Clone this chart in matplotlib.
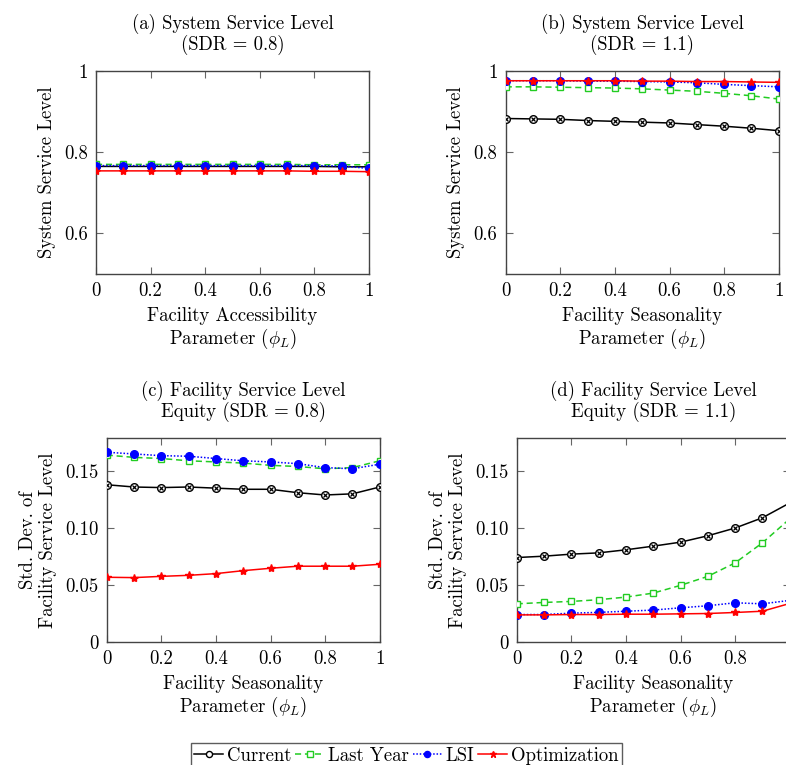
import numpy as np
import matplotlib
matplotlib.use("Agg")
import matplotlib.pyplot as plt

plt.rcParams['font.family'] = 'serif'
plt.rcParams['font.serif'] = ['cmr10']
plt.rcParams['mathtext.fontset'] = 'cm'
plt.rcParams['axes.formatter.use_mathtext'] = True

# x values (phi_L)
phi = [0.0, 0.1, 0.2, 0.3, 0.4, 0.5, 0.6, 0.7, 0.8, 0.9, 1.0]

# (a) System service level, SDR = 0.8
a_current = [0.765, 0.765, 0.765, 0.765, 0.765, 0.765, 0.765, 0.765, 0.765, 0.764, 0.764]
a_lastyear = [0.770, 0.770, 0.770, 0.770, 0.770, 0.770, 0.770, 0.770, 0.769, 0.769, 0.769]
a_lsi = [0.767, 0.767, 0.767, 0.767, 0.767, 0.767, 0.767, 0.767, 0.767, 0.766, 0.760]
a_opt = [0.754, 0.754, 0.754, 0.754, 0.754, 0.754, 0.754, 0.754, 0.753, 0.753, 0.752]

# (b) System service level, SDR = 1.1
b_current = [0.883, 0.882, 0.881, 0.878, 0.876, 0.874, 0.872, 0.868, 0.864, 0.859, 0.853]
b_lastyear = [0.961, 0.961, 0.960, 0.959, 0.958, 0.956, 0.953, 0.950, 0.945, 0.939, 0.931]
b_lsi = [0.976, 0.976, 0.976, 0.975, 0.975, 0.974, 0.973, 0.971, 0.967, 0.964, 0.961]
b_opt = [0.976, 0.976, 0.976, 0.976, 0.976, 0.975, 0.975, 0.974, 0.974, 0.973, 0.972]

# (c) Std. dev. of facility service level, SDR = 0.8
c_current = [0.138, 0.136, 0.1355, 0.136, 0.135, 0.134, 0.134, 0.131, 0.129, 0.130, 0.136]
c_lastyear = [0.164, 0.162, 0.161, 0.159, 0.158, 0.157, 0.155, 0.154, 0.152, 0.153, 0.159]
c_lsi = [0.1665, 0.165, 0.1635, 0.163, 0.161, 0.159, 0.158, 0.1565, 0.153, 0.152, 0.156]
c_opt = [0.0568, 0.0565, 0.0576, 0.0585, 0.060, 0.0626, 0.0647, 0.0665, 0.0665, 0.0665, 0.0682]

# (d) Std. dev. of facility service level, SDR = 1.1
d_current = [0.0741, 0.0753, 0.0771, 0.0782, 0.0809, 0.0841, 0.0876, 0.0932, 0.100, 0.109, 0.122]
d_lastyear = [0.0335, 0.0347, 0.0356, 0.0371, 0.0394, 0.0429, 0.0497, 0.0576, 0.0694, 0.087, 0.108]
d_lsi = [0.0241, 0.0241, 0.0253, 0.026, 0.027, 0.028, 0.030, 0.0318, 0.0344, 0.0335, 0.0365]
d_opt = [0.0238, 0.0238, 0.0241, 0.0241, 0.0244, 0.0244, 0.0247, 0.025, 0.0259, 0.027, 0.0338]

titles = ["(a) System Service Level\n(SDR = 0.8)",
          "(b) System Service Level\n(SDR = 1.1)",
          "(c) Facility Service Level\nEquity (SDR = 0.8)",
          "(d) Facility Service Level\nEquity (SDR = 1.1)"]
xlabels = ["Facility Accessibility\nParameter ($\\phi_L$)",
           "Facility Seasonality\nParameter ($\\phi_L$)",
           "Facility Seasonality\nParameter ($\\phi_L$)",
           "Facility Seasonality\nParameter ($\\phi_L$)"]
ylabels = ["System Service Level", "System Service Level",
           "Std. Dev. of\nFacility Service Level", "Std. Dev. of\nFacility Service Level"]

green = '#22cc22'
fs = 13.5

fig = plt.figure(figsize=(7.86, 7.65), dpi=100)
W, H = 786, 765
boxes = [(96, 71, 273, 203), (505.7, 71, 273, 203),
         (106.7, 438, 273, 204), (516.7, 438, 273, 204)]
axes = [fig.add_axes([x / W, 1 - (y + h) / H, w / W, h / H]) for x, y, w, h in boxes]

data = [(a_current, a_lastyear, a_lsi, a_opt),
        (b_current, b_lastyear, b_lsi, b_opt),
        (c_current, c_lastyear, c_lsi, c_opt),
        (d_current, d_lastyear, d_lsi, d_opt)]

for i, ax in enumerate(axes):
    cur, ly, lsi, opt = data[i]
    ax.plot(phi, cur, color='black', lw=1.1, marker='o', ms=5.5, mfc='white',
            mec='black', mew=1.0, label='Current', zorder=3)
    ax.plot(phi, cur, ls='none', marker='x', ms=3.5, color='black', mew=0.9, zorder=3)
    ax.plot(phi, ly, color=green, lw=1.1, ls=(0, (4, 2.5)), marker='s', ms=5,
            mfc='white', mec=green, mew=1.0, label='Last Year', zorder=4)
    ax.plot(phi, lsi, color='blue', lw=1.1, ls=(0, (1, 1.2)), marker='o', ms=5.5,
            mfc='blue', mec='blue', label='LSI', zorder=5)
    ax.plot(phi, opt, color='red', lw=1.1, marker='*', ms=6, mfc='red', mec='red',
            label='Optimization', zorder=6)

    ax.set_xlim(0, 1)
    if i == 3:
        ax.set_xticks([0, 0.2, 0.4, 0.6, 0.8])
        ax.set_xticklabels(['0', '0.2', '0.4', '0.6', '0.8'])
    else:
        ax.set_xticks([0, 0.2, 0.4, 0.6, 0.8, 1])
        ax.set_xticklabels(['0', '0.2', '0.4', '0.6', '0.8', '1'])
    if i < 2:
        ax.set_ylim(0.5, 1)
        ax.set_yticks([0.6, 0.8, 1])
        ax.set_yticklabels(['0.6', '0.8', '1'])
    else:
        ax.set_ylim(0, 0.179)
        ax.set_yticks([0, 0.05, 0.10, 0.15])
        ax.set_yticklabels(['0', '0.05', '0.10', '0.15'])
    ax.tick_params(direction='in', top=True, right=True, length=5, width=0.8,
                   color='#666666', labelsize=fs, pad=6)
    for s in ax.spines.values():
        s.set_color('#444444')
        s.set_linewidth(1.0)
    ax.set_title(titles[i], fontsize=fs, pad=15, linespacing=1.1)
    ax.set_xlabel(xlabels[i], fontsize=fs, linespacing=1.1, labelpad=5)
    ax.set_ylabel(ylabels[i], fontsize=fs, linespacing=1.1, labelpad=6)

h, l = axes[0].get_legend_handles_labels()
fig.legend(h, l, loc='center', bbox_to_anchor=(0.517, 0.012), ncol=4,
           fontsize=fs, frameon=True, fancybox=False, edgecolor='#333333',
           handlelength=1.55, handletextpad=0.2, columnspacing=0.2,
           borderpad=0.2, borderaxespad=0, markerscale=0.8)

fig.savefig('out.png', dpi=100)
